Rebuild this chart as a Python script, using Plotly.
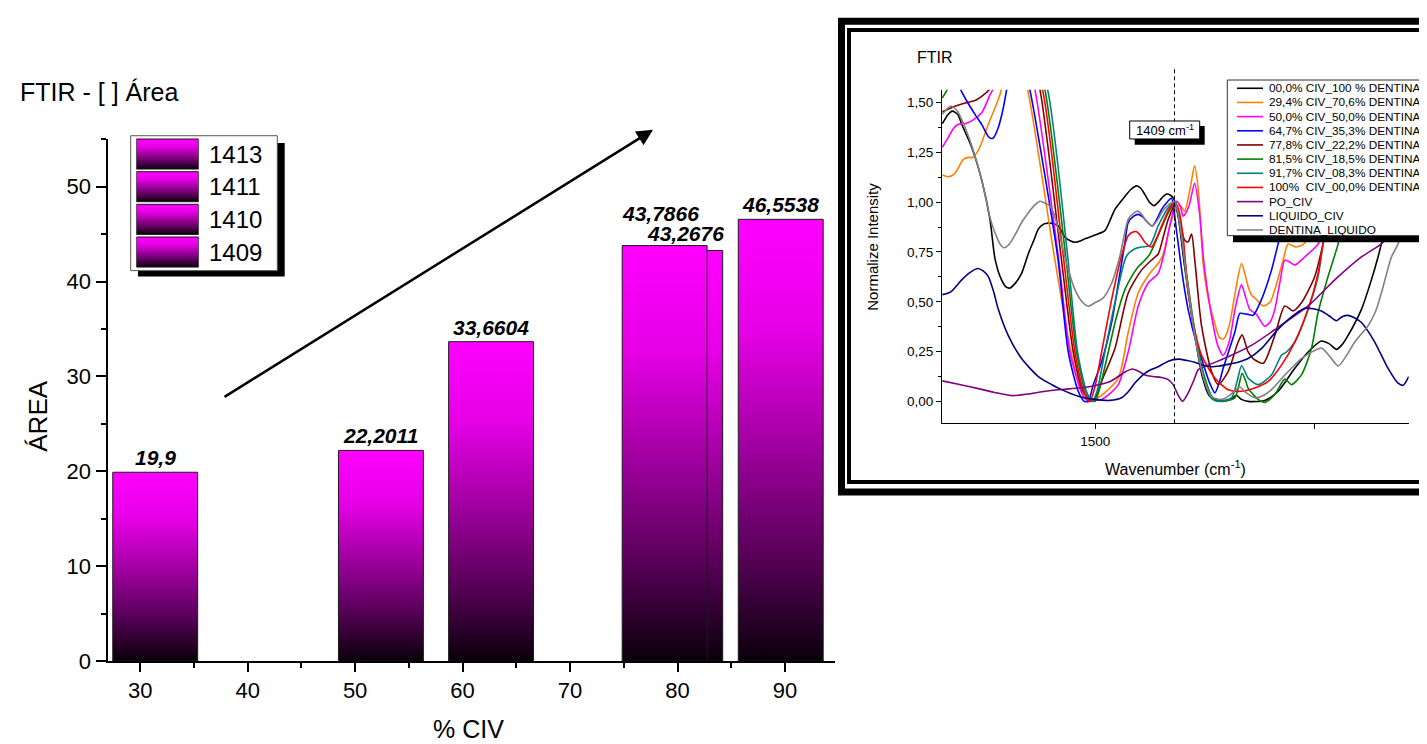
import plotly.graph_objects as go

W, H = 1427, 744
FONT = "Liberation Sans, Arial, Helvetica, sans-serif"

# ---------------- main chart data ----------------
PCT_CIV = [31.4, 52.4, 62.65, 78.8, 80.25, 89.6]
AREA = [19.9, 22.2011, 33.6604, 43.7866, 43.2676, 46.5538]
SERIES = ["1413", "1411", "1410", "1409"]
TITLE = "FTIR - [ ] Área"

# ---------------- inset spectra data (wavenumber, normalized intensity) ----------------
wn_00 = [1674.6, 1668, 1663.2, 1657, 1652.5, 1641.1, 1629.7, 1620.2, 1614.5, 1608, 1602, 1597.4, 1591, 1584.1,
         1576.4, 1570, 1565, 1559, 1553.6, 1548, 1542.2, 1534.6, 1528, 1523.2, 1517, 1511.8, 1500.3, 1489, 1482,
         1477.5, 1466.1, 1459, 1452.8, 1448, 1443.3, 1438, 1432.6, 1427, 1422, 1418.5, 1414, 1410.2, 1405, 1398,
         1388, 1378, 1370, 1362, 1350, 1344, 1338.7, 1333, 1325.4, 1306.4, 1291.1, 1272.1, 1256.9, 1241.7, 1233,
         1224.5, 1218, 1211.2, 1196, 1184.6, 1177, 1173.2, 1166, 1160]
i_00 = [1.394, 1.44, 1.457, 1.44, 1.391, 1.276, 1.112, 0.914, 0.717, 0.62, 0.575, 0.569, 0.595, 0.643,
        0.7415, 0.81, 0.865, 0.89, 0.895, 0.893, 0.881, 0.824, 0.805, 0.799, 0.805, 0.816, 0.835, 0.857, 0.92,
        0.964, 1.029, 1.065, 1.082, 1.07, 1.038, 1.0, 0.983, 1.005, 1.03, 1.041, 1.035, 1.016, 0.92, 0.68,
        0.38, 0.13, 0.03, 0.005, 0.005, 0.015, 0.031, 0.01, 0.0, 0.005, 0.051, 0.166, 0.248, 0.303, 0.29,
        0.261, 0.285, 0.331, 0.462, 0.61, 0.725, 0.791, 0.9, 1.0]

wn_29 = [1674.6, 1667.8, 1660.2, 1650.6, 1645, 1641.1, 1633.5, 1622.1, 1614.5, 1608.8, 1600, 1590, 1577.2, 1546.8,
         1527.7, 1515, 1508.7, 1500, 1490, 1473.7, 1462.3, 1450.9, 1437.6, 1428.1, 1422.3, 1414.7, 1407.1, 1403,
         1398, 1392, 1386.5, 1382, 1376.7, 1371, 1364, 1358, 1353.4, 1347, 1340, 1333, 1329, 1325.4, 1321,
         1317.8, 1308.2, 1300, 1294.9, 1285.4, 1279.7, 1271, 1262, 1250, 1240]
i_29 = [1.136, 1.128, 1.145, 1.215, 1.225, 1.223, 1.26, 1.391, 1.473, 1.539, 1.7, 1.75, 1.564, 0.73,
        0.248, 0.04, 0.0, 0.01, 0.04, 0.117, 0.347, 0.544, 0.643, 0.692, 0.74, 0.881, 0.972, 0.985,
        0.955, 1.06, 1.183, 1.05, 0.69, 0.52, 0.40, 0.32, 0.314, 0.38, 0.55, 0.692, 0.64, 0.577, 0.53,
        0.52, 0.479, 0.5, 0.561, 0.709, 0.79, 0.775, 0.79, 0.9, 1.05]

wn_50 = [1674.6, 1667.8, 1662, 1656.4, 1648.7, 1641.1, 1629.7, 1620.2, 1616.4, 1605, 1590, 1580, 1568.8, 1542.2,
         1528.9, 1514, 1507.2, 1500, 1492.7, 1483, 1473.7, 1462.3, 1450.9, 1439.5, 1428.1, 1420.4, 1414, 1407.1,
         1403, 1399.5, 1393, 1386.5, 1381, 1376, 1368, 1360, 1353.9, 1347, 1340, 1333, 1328, 1323.5, 1316,
         1306.4, 1300, 1294.9, 1289, 1283.5, 1278, 1272.1, 1260.7, 1245.5, 1235]
i_50 = [1.276, 1.325, 1.37, 1.391, 1.394, 1.408, 1.449, 1.539, 1.572, 1.75, 1.8, 1.75, 1.564, 0.73,
        0.248, 0.03, 0.0, 0.005, 0.01, 0.04, 0.084, 0.248, 0.478, 0.594, 0.643, 0.76, 0.9, 1.004,
        0.98, 0.93, 0.98, 1.095, 0.95, 0.7, 0.45, 0.28, 0.232, 0.3, 0.47, 0.585, 0.52, 0.462, 0.437,
        0.377, 0.4, 0.462, 0.6, 0.709, 0.7, 0.684, 0.725, 0.79, 0.9]

wn_64 = [1674.6, 1665, 1654.4, 1648.7, 1637.3, 1629.7, 1622.1, 1619, 1616.4, 1610.7, 1605, 1601.2, 1595, 1585,
         1574.6, 1543, 1530.8, 1519.4, 1512.5, 1508, 1502.2, 1492.7, 1481.3, 1471.8, 1466, 1462.3, 1456, 1450.9,
         1447, 1443.3, 1434.9, 1429, 1424.2, 1418, 1413, 1407, 1400, 1393.9, 1385, 1378.6, 1370, 1363.4, 1358,
         1353.9, 1340.6, 1334.9, 1330, 1325.4, 1319.7, 1310.2, 1298.7, 1291.1, 1284, 1278]
i_64 = [1.75, 1.7, 1.572, 1.523, 1.441, 1.391, 1.33, 1.32, 1.322, 1.375, 1.473, 1.564, 1.7, 1.75,
        1.564, 0.73, 0.248, 0.051, 0.0, 0.0, 0.084, 0.199, 0.396, 0.643, 0.8, 0.898, 0.93, 0.939,
        0.93, 0.914, 0.881, 0.92, 0.964, 1.0, 1.02, 0.85, 0.62, 0.462, 0.3, 0.215, 0.1, 0.043, 0.1,
        0.166, 0.347, 0.442, 0.44, 0.437, 0.432, 0.511, 0.659, 0.791, 0.9, 1.0]

wn_77 = [1674.6, 1660.2, 1648.7, 1637.3, 1629.7, 1620.2, 1610, 1590, 1575, 1563.1, 1539.1, 1525.1, 1514, 1503,
         1490, 1477.5, 1462.3, 1447.1, 1433.8, 1428.1, 1422, 1416.6, 1408.3, 1403, 1398, 1394, 1390, 1386.3,
         1378.6, 1367.2, 1359.6, 1348.2, 1336.8, 1332.2, 1325.4, 1319.7, 1308.2, 1294.9, 1283.5, 1274, 1264.5,
         1249.3, 1239.8, 1232]
i_77 = [1.454, 1.482, 1.498, 1.51, 1.531, 1.569, 1.65, 1.8, 1.75, 1.564, 0.73, 0.248, 0.05, 0.0,
        0.13, 0.265, 0.544, 0.659, 0.717, 0.74, 0.83, 0.914, 0.993, 0.9, 0.81, 0.8, 0.84, 0.709,
        0.38, 0.15, 0.084, 0.15, 0.298, 0.334, 0.248, 0.215, 0.191, 0.331, 0.479, 0.454, 0.495,
        0.627, 0.791, 0.95]

wn_81 = [1674.6, 1667.8, 1650, 1600, 1570, 1557.4, 1533.8, 1521.3, 1510, 1500.4, 1493, 1485.1, 1476, 1466.1,
         1458, 1450.9, 1443, 1437.6, 1428.1, 1416.6, 1408.3, 1402, 1395, 1385, 1375, 1366, 1355.8, 1340.6, 1336,
         1332.2, 1328, 1325.4, 1314, 1306.4, 1294.9, 1283.5, 1275.9, 1264.5, 1253.1, 1245.5, 1234.1, 1222.6, 1215]
i_81 = [1.523, 1.575, 1.75, 1.8, 1.75, 1.564, 0.73, 0.248, 0.04, 0.0, 0.1, 0.248, 0.42, 0.561,
        0.63, 0.676, 0.71, 0.74, 0.832, 0.947, 0.997, 0.86, 0.62, 0.32, 0.12, 0.02, 0.0, 0.018, 0.08,
        0.141, 0.1, 0.067, 0.01, -0.005, 0.035, 0.112, 0.084, 0.133, 0.265, 0.446, 0.627, 0.791, 0.95]

wn_91 = [1674.6, 1600, 1570, 1554.4, 1531.5, 1520.2, 1510, 1503.4, 1498, 1489, 1477.5, 1464.2, 1454.7, 1447.1,
         1437.6, 1428.1, 1416.6, 1408.3, 1402, 1395, 1385, 1375, 1368, 1359.6, 1344.4, 1338, 1333, 1329, 1325.4,
         1314, 1298.7, 1287.3, 1281.6, 1272.1, 1256.9, 1245.5, 1239.8, 1232]
i_91 = [1.75, 1.8, 1.75, 1.564, 0.73, 0.248, 0.05, 0.0, 0.05, 0.248, 0.495, 0.73, 0.766, 0.775,
        0.783, 0.881, 0.972, 1.0, 0.85, 0.6, 0.3, 0.1, 0.02, 0.0, 0.018, 0.1, 0.179, 0.15, 0.117,
        0.084, 0.133, 0.232, 0.248, 0.298, 0.462, 0.627, 0.791, 0.95]

wn_100 = [1674.6, 1600, 1575, 1560.1, 1536.5, 1523.2, 1513, 1506.1, 1500, 1492.7, 1481.3, 1470, 1462.3, 1457,
          1452.8, 1448, 1443.3, 1435.7, 1430, 1424.2, 1414.7, 1409, 1404, 1399, 1393.9, 1386, 1378.6, 1363.4,
          1348.2, 1333, 1317.8, 1302.5, 1287.3, 1272.1, 1256.9, 1245.5, 1239.8, 1232]
i_100 = [1.75, 1.8, 1.75, 1.564, 0.73, 0.248, 0.05, 0.0, 0.08, 0.248, 0.511, 0.73, 0.832, 0.85,
         0.852, 0.83, 0.799, 0.775, 0.82, 0.881, 0.972, 0.997, 0.95, 0.8, 0.544, 0.35, 0.232, 0.117,
         0.059, 0.051, 0.067, 0.1, 0.182, 0.298, 0.462, 0.643, 0.791, 0.95]

wn_po = [1674.6, 1655, 1633.5, 1615, 1595.5, 1575, 1557.4, 1538, 1519.4, 1505, 1492.7, 1483, 1473.7, 1465,
         1457.7, 1450, 1443.3, 1434, 1424.2, 1416.7, 1411, 1405.2, 1400.3, 1396, 1392, 1387, 1382.5, 1371,
         1348.2, 1321.6, 1291.1, 1256.9, 1226.4, 1196, 1173.2, 1160, 1145]
i_po = [0.103, 0.085, 0.064, 0.045, 0.029, 0.038, 0.051, 0.06, 0.067, 0.075, 0.087, 0.1, 0.125, 0.15,
        0.163, 0.15, 0.133, 0.125, 0.12, 0.109, 0.084, 0.03, 0.0, 0.025, 0.059, 0.11, 0.158, 0.182,
        0.224, 0.281, 0.372, 0.479, 0.61, 0.725, 0.791, 0.85, 0.92]

wn_liq = [1674.6, 1665, 1652.5, 1642, 1634.3, 1628, 1622.1, 1616, 1610.7, 1599.3, 1584.1, 1565, 1550, 1538.4,
          1519.4, 1500.4, 1483.2, 1470, 1462, 1454.7, 1443.3, 1436, 1428.1, 1416.6, 1405.2, 1395, 1386.3, 1376,
          1367.2, 1358, 1348.2, 1336, 1325.4, 1310.2, 1291.1, 1272.1, 1260.7, 1251, 1241.7, 1233, 1224.5, 1218,
          1211.2, 1204, 1196, 1180.8, 1165.6, 1154.1, 1148.4, 1142]
i_liq = [0.536, 0.55, 0.61, 0.65, 0.667, 0.655, 0.626, 0.55, 0.462, 0.33, 0.215, 0.125, 0.085, 0.059,
         0.026, 0.01, 0.005, 0.018, 0.05, 0.092, 0.141, 0.16, 0.174, 0.202, 0.212, 0.205, 0.196, 0.18,
         0.174, 0.178, 0.186, 0.198, 0.215, 0.265, 0.363, 0.437, 0.467, 0.465, 0.454, 0.43, 0.405, 0.425,
         0.432, 0.42, 0.396, 0.298, 0.166, 0.092, 0.081, 0.125]

wn_dl = [1674.6, 1669, 1664.7, 1658, 1652, 1641.1, 1629.7, 1620, 1612, 1607, 1603.8, 1598, 1591, 1584.1, 1575,
         1568, 1563.1, 1557, 1551.7, 1547, 1542.2, 1535, 1523.2, 1515, 1508, 1500.4, 1490.8, 1481.3, 1471.8,
         1462.3, 1456, 1451.6, 1447, 1443.3, 1434.9, 1429, 1424.2, 1418, 1412.8, 1409, 1402, 1395, 1385, 1375,
         1366, 1355, 1345, 1339, 1334.9, 1328, 1317.8, 1308, 1298.7, 1281.6, 1264.5, 1252, 1241.7, 1232,
         1222.6, 1213, 1203.6, 1188.4, 1180, 1173.2, 1161.7, 1154.1, 1148, 1142]
i_dl = [1.441, 1.47, 1.482, 1.46, 1.41, 1.284, 1.112, 0.92, 0.82, 0.78, 0.771, 0.79, 0.84, 0.898, 0.955,
        0.99, 1.005, 0.995, 0.98, 0.94, 0.865, 0.73, 0.561, 0.5, 0.478, 0.495, 0.52, 0.593, 0.73,
        0.914, 0.945, 0.955, 0.94, 0.914, 0.881, 0.91, 0.947, 0.98, 0.997, 1.0, 0.85, 0.6, 0.3, 0.1,
        0.02, 0.01, 0.035, 0.062, 0.072, 0.045, 0.018, 0.03, 0.059, 0.141, 0.215, 0.25, 0.268, 0.225,
        0.178, 0.23, 0.298, 0.38, 0.45, 0.544, 0.725, 0.791, 0.9, 1.0]

SPECTRA_NAMES = ["00,0% CIV_100 % DENTINA", "29,4% CIV_70,6% DENTINA", "50,0% CIV_50,0% DENTINA",
                 "64,7% CIV_35,3% DENTINA", "77,8% CIV_22,2% DENTINA", "81,5% CIV_18,5% DENTINA",
                 "91,7% CIV_08,3% DENTINA", "100%  CIV_00,0% DENTINA", "PO_CIV", "LIQUIDO_CIV",
                 "DENTINA_LIQUIDO"]
SPECTRA_WN = [wn_00, wn_29, wn_50, wn_64, wn_77, wn_81, wn_91, wn_100, wn_po, wn_liq, wn_dl]
SPECTRA_I = [i_00, i_29, i_50, i_64, i_77, i_81, i_91, i_100, i_po, i_liq, i_dl]
INSET_LABELED_TICKS = [1500]
INSET_UNLABELED_TICKS = [1250]
MARK_WN = 1409.5
MARK_TEXT = "1409 cm<sup>-1</sup>"

# ---------------- styles ----------------
SPECTRA_COLORS = ["#000000", "#FF8000", "#FF00FF", "#0000FF", "#800000", "#008000",
                  "#008080", "#FF0000", "#800080", "#000080", "#808080"]
GRAD = [[0, "#0a000a"], [0.25, "#5c005c"], [0.5, "#a400a4"], [0.75, "#e600e6"], [1, "#ff00ff"]]
BAR_WIDTH = 7.9
DRAW_ORDER = [0, 1, 2, 4, 3, 5]
LABEL_XSHIFT = [0, 0, 0, -4, 5, 0]
LABEL_YSHIFT = [1, 1, 1, 19, 3, 1]


def px(x):
    return x / W


def py(y):
    return 1 - y / H


fig = go.Figure()

# main bars (gradient filled rectangles built from the data)
for i in DRAW_ORDER:
    x0 = PCT_CIV[i] - BAR_WIDTH / 2
    x1 = PCT_CIV[i] + BAR_WIDTH / 2
    fig.add_trace(go.Scatter(
        x=[x0, x0, x1, x1, x0], y=[0, AREA[i], AREA[i], 0, 0],
        mode="lines", fill="toself",
        fillgradient=dict(type="vertical", colorscale=GRAD),
        line=dict(color="#1a1a1a", width=1),
        hoverinfo="skip", showlegend=False, xaxis="x", yaxis="y"))

# legend swatches of the main chart
n = len(SERIES)
for k, s in enumerate(SERIES):
    lo = n - 1 - k + 0.04
    hi = n - 1 - k + 0.96
    fig.add_trace(go.Scatter(
        x=[0, 0, 1, 1, 0], y=[lo, hi, hi, lo, lo], mode="lines", fill="toself",
        fillgradient=dict(type="vertical", colorscale=GRAD),
        line=dict(color="#1a1a1a", width=1), hoverinfo="skip", showlegend=False,
        xaxis="x3", yaxis="y3"))

# inset spectra
for name, col, wn, inten in zip(SPECTRA_NAMES, SPECTRA_COLORS, SPECTRA_WN, SPECTRA_I):
    fig.add_trace(go.Scatter(
        x=wn, y=inten, mode="lines", name=name,
        line=dict(color=col, width=1.6, shape="spline", smoothing=0.7),
        hoverinfo="skip", showlegend=False, xaxis="x2", yaxis="y2"))

axis_common = dict(showgrid=False, zeroline=False, showline=True, linecolor="black",
                   ticks="outside", tickcolor="black")

fig.update_layout(
    width=W, height=H, autosize=False,
    margin=dict(l=0, r=0, t=0, b=0),
    paper_bgcolor="white", plot_bgcolor="rgba(0,0,0,0)",
    separators=",.",
    font=dict(family=FONT, color="black"),
    showlegend=False,
    xaxis=dict(domain=[px(99.5), px(827)], range=[26.96, 94.65], anchor="y",
               tickmode="linear", tick0=0, dtick=10, ticklen=9, tickwidth=2, linewidth=2,
               tickfont=dict(size=22, family=FONT),
               minor=dict(ticks="outside", tick0=0, dtick=5, ticklen=5, tickwidth=2, tickcolor="black"),
               **axis_common),
    yaxis=dict(domain=[py(664.7), py(133.5)], range=[0, 55], anchor="x",
               tickmode="linear", tick0=0, dtick=10, ticklen=10, tickwidth=2, linewidth=2,
               tickfont=dict(size=22, family=FONT),
               minor=dict(ticks="outside", tick0=0, dtick=5, ticklen=5, tickwidth=2, tickcolor="black"),
               **axis_common),
    xaxis2=dict(domain=[px(934), px(1400.7)], range=[1675, 1142], anchor="y2",
                tickmode="array", tickvals=INSET_LABELED_TICKS,
                ticklen=5, tickwidth=1, linewidth=1, tickfont=dict(size=13.5, family=FONT),
                minor=dict(ticks="outside", tickmode="array", tickvals=INSET_UNLABELED_TICKS,
                           ticklen=5, tickwidth=1, tickcolor="black"),
                **axis_common),
    yaxis2=dict(domain=[py(422.7), py(83.3)], range=[-0.11, 1.564], anchor="x2",
                tickmode="linear", tick0=0, dtick=0.25, tickformat=".2f",
                ticklen=5, tickwidth=1, linewidth=1, tickfont=dict(size=13.5, family=FONT),
                minor=dict(ticks="outside", tick0=0, dtick=0.125, ticklen=3, tickwidth=1, tickcolor="black"),
                **axis_common),
    xaxis3=dict(domain=[px(128.3), px(190.7)], range=[0, 1], visible=False, anchor="y3", fixedrange=True),
    yaxis3=dict(domain=[py(265), py(132)], range=[0, n], visible=False, anchor="x3", fixedrange=True),
)

shapes = []
# main legend box + shadow (under the swatches)
shapes.append(dict(type="rect", xref="paper", yref="paper", layer="below",
                   x0=px(130), x1=px(276.7), y0=py(273.3), y1=py(137.3),
                   fillcolor="black", line=dict(width=0)))
shapes.append(dict(type="rect", xref="paper", yref="paper", layer="below",
                   x0=px(122.7), x1=px(269.3), y0=py(267.3), y1=py(130),
                   fillcolor="white", line=dict(color="#555555", width=1)))
# dashed marker line
shapes.append(dict(type="line", xref="x2", yref="paper", x0=MARK_WN, x1=MARK_WN,
                   y0=py(422.7), y1=py(61.7), line=dict(color="black", width=1, dash="4px,3px")))
# marker label box
shapes.append(dict(type="rect", xref="paper", yref="paper", x0=px(1126.7), x1=px(1196.7),
                   y0=py(139.3), y1=py(120), fillcolor="black", line=dict(width=0)))
shapes.append(dict(type="rect", xref="paper", yref="paper", x0=px(1121.7), x1=px(1191.7),
                   y0=py(133.3), y1=py(115), fillcolor="white", line=dict(color="black", width=1)))
# inset legend box
shapes.append(dict(type="rect", xref="paper", yref="paper", x0=px(1225), x1=px(1426),
                   y0=py(238.3), y1=py(78.5), fillcolor="black", line=dict(width=0)))
shapes.append(dict(type="rect", xref="paper", yref="paper", x0=px(1219.3), x1=px(1421),
                   y0=py(231.7), y1=py(73.3), fillcolor="white", line=dict(color="#333333", width=1)))
ROW0, ROWSTEP = 81.7, 14.42
annotations = []
for k, (name, col) in enumerate(zip(SPECTRA_NAMES, SPECTRA_COLORS)):
    yy = ROW0 + k * ROWSTEP
    shapes.append(dict(type="line", xref="paper", yref="paper", x0=px(1229), x1=px(1255),
                       y0=py(yy), y1=py(yy), line=dict(color=col, width=1.6)))
    annotations.append(dict(text=name, xref="paper", yref="paper", x=px(1258.5), y=py(yy),
                            xanchor="left", yanchor="middle", showarrow=False,
                            font=dict(size=11.8, family=FONT, color="black")))
# inset double frame
shapes.append(dict(type="rect", xref="paper", yref="paper", x0=px(833.5), x1=px(1420.5),
                   y0=py(492.5), y1=py(13.5), line=dict(color="black", width=7)))
shapes.append(dict(type="rect", xref="paper", yref="paper", x0=px(841), x1=px(1413),
                   y0=py(482.5), y1=py(22.5), line=dict(color="black", width=4)))

# main chart texts
annotations.append(dict(text=TITLE, xref="paper", yref="paper", x=px(10), y=py(85),
                        xanchor="left", yanchor="middle", showarrow=False,
                        font=dict(size=25, family=FONT)))
annotations.append(dict(text="ÁREA", xref="paper", yref="paper", x=px(30), y=py(416),
                        xanchor="center", yanchor="middle", showarrow=False, textangle=-90,
                        font=dict(size=26, family=FONT)))
annotations.append(dict(text="% CIV", xref="paper", yref="paper", x=px(461), y=py(734),
                        xanchor="center", yanchor="middle", showarrow=False,
                        font=dict(size=25, family=FONT)))
for i in range(len(AREA)):
    annotations.append(dict(text=str(AREA[i]).replace(".", ","), x=PCT_CIV[i], y=AREA[i],
                            xref="x", yref="y", xanchor="center", yanchor="bottom",
                            xshift=LABEL_XSHIFT[i], yshift=LABEL_YSHIFT[i], showarrow=False,
                            font=dict(size=21, family=FONT, weight="bold", style="italic")))
for k, s in enumerate(SERIES):
    yc = n - 1 - k + 0.5
    annotations.append(dict(text=s, x=1, y=yc, xref="x3", yref="y3", xanchor="left",
                            yanchor="middle", xshift=8, showarrow=False,
                            font=dict(size=24, family=FONT)))
# trend arrow
annotations.append(dict(text="", xref="paper", yref="paper", x=px(645), y=py(124),
                        ax=215 - 645, ay=392 - 124, axref="pixel", ayref="pixel",
                        showarrow=True, arrowhead=2, arrowsize=1.3, arrowwidth=2.5,
                        arrowcolor="black", standoff=0))
# inset texts
annotations.append(dict(text="FTIR", xref="paper", yref="paper", x=px(907), y=py(50),
                        xanchor="left", yanchor="middle", showarrow=False,
                        font=dict(size=16, family=FONT)))
annotations.append(dict(text="Normalize Intensity", xref="paper", yref="paper", x=px(865), y=py(243),
                        xanchor="center", yanchor="middle", showarrow=False, textangle=-90,
                        font=dict(size=15, family=FONT)))
annotations.append(dict(text="Wavenumber (cm<sup>-1</sup>)", xref="paper", yref="paper",
                        x=px(1167), y=py(468), xanchor="center", yanchor="middle", showarrow=False,
                        font=dict(size=16, family=FONT)))
annotations.append(dict(text=MARK_TEXT, xref="paper", yref="paper", x=px(1156.7), y=py(124.5),
                        xanchor="center", yanchor="middle", showarrow=False,
                        font=dict(size=13, family=FONT)))

fig.update_layout(shapes=shapes, annotations=annotations)
fig.write_html("out.html")
